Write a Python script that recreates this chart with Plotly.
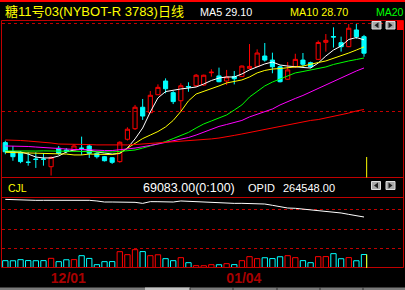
import plotly.graph_objects as go

W, H = 405, 290

# ---------------- data ----------------
title_text = "糖11号03(NYBOT-R 3783)日线"
opens  = [23.26, 22.74, 22.71, 22.15, 22.33, 22.33, 21.89, 22.94, 22.84, 22.84,
          22.95, 23.07, 22.65, 22.46, 22.40, 22.18, 23.45, 24.05, 25.27, 24.96,
          25.98, 26.76, 26.10, 25.64, 26.45, 26.49, 26.53, 27.23, 27.05, 26.76,
          27.01, 27.01, 27.48, 27.59, 28.18, 27.95, 27.57, 26.86, 27.57, 27.95,
          27.80, 27.99, 28.96, 29.29, 28.94, 28.71, 29.66, 29.28]
highs  = [23.37, 23.07, 22.78, 22.71, 22.71, 22.65, 22.48, 23.07, 22.95, 23.18,
          23.60, 23.18, 22.70, 22.50, 22.44, 23.33, 24.13, 25.40, 25.74, 26.19,
          26.57, 26.91, 26.19, 26.63, 26.69, 27.16, 27.12, 27.43, 27.52, 27.39,
          27.33, 27.64, 28.86, 28.56, 28.92, 28.37, 27.64, 27.84, 28.31, 28.35,
          27.86, 29.06, 29.43, 29.81, 29.28, 30.00, 30.00, 29.38]
lows   = [22.60, 22.23, 22.09, 21.95, 21.82, 21.95, 21.39, 22.56, 22.67, 22.78,
          22.56, 22.39, 22.36, 22.19, 22.05, 22.12, 23.38, 23.98, 24.55, 24.94,
          25.97, 26.06, 25.45, 25.02, 26.15, 26.42, 26.48, 27.01, 26.69, 26.53,
          26.57, 26.99, 27.47, 27.56, 27.86, 27.20, 26.68, 26.82, 27.50, 27.50,
          27.50, 27.95, 28.43, 28.66, 28.43, 28.69, 29.16, 28.14]
closes = [22.74, 22.46, 22.18, 22.14, 22.30, 22.31, 22.42, 22.64, 22.76, 23.07,
          22.93, 22.65, 22.46, 22.23, 22.14, 23.28, 24.02, 25.27, 24.77, 25.95,
          26.40, 26.32, 25.59, 26.49, 26.42, 27.09, 27.09, 27.26, 26.72, 26.99,
          26.89, 27.61, 27.59, 28.35, 27.95, 27.57, 26.72, 27.39, 27.99, 27.71,
          27.57, 28.95, 29.07, 29.26, 28.71, 29.76, 29.28, 28.34]

ma5  = [22.76, 22.73, 22.73, 22.61, 22.44, 22.39, 22.39, 22.50, 22.73, 22.84,
        22.87, 22.84, 22.73, 22.67, 22.61, 22.64, 22.95, 23.47, 24.09, 25.00,
        25.80, 26.16, 26.25, 26.31, 26.36, 26.42, 26.59, 26.79, 26.93, 26.99,
        26.99, 27.16, 27.39, 27.56, 27.73, 27.84, 27.67, 27.61, 27.59, 27.53,
        27.50, 27.78, 28.18, 28.52, 28.75, 29.12, 29.23, 29.10]
ma10 = [22.71, 22.70, 22.70, 22.67, 22.67, 22.64, 22.64, 22.64, 22.61, 22.56,
        22.56, 22.61, 22.61, 22.61, 22.58, 22.67, 22.93, 23.21, 23.49, 23.69,
        23.89, 24.15, 24.52, 25.03, 25.63, 26.02, 26.16, 26.31, 26.48, 26.65,
        26.73, 26.82, 26.99, 27.22, 27.36, 27.44, 27.47, 27.50, 27.56, 27.61,
        27.73, 27.81, 27.90, 28.04, 28.18, 28.35, 28.52, 28.70]
ma20 = [22.79, 22.78, 22.78, 22.77, 22.78, 22.79, 22.78, 22.78, 22.77, 22.76,
        22.76, 22.76, 22.73, 22.73, 22.73, 22.76, 22.78, 22.84, 22.95, 23.07,
        23.21, 23.32, 23.49, 23.67, 23.84, 24.09, 24.32, 24.49, 24.66, 24.83,
        25.11, 25.40, 25.85, 26.19, 26.48, 26.70, 26.88, 27.05, 27.22, 27.30,
        27.39, 27.44, 27.56, 27.70, 27.81, 27.90, 27.98, 28.07]
ma40 = [23.07, 23.07, 23.07, 23.04, 23.01, 22.98, 22.93, 22.90, 22.87, 22.87,
        22.87, 22.84, 22.84, 22.81, 22.81, 22.84, 22.90, 22.95, 23.01, 23.10,
        23.18, 23.27, 23.35, 23.44, 23.55, 23.69, 23.86, 24.03, 24.18, 24.29,
        24.40, 24.52, 24.72, 24.86, 25.00, 25.17, 25.40, 25.60, 25.77, 25.94,
        26.14, 26.36, 26.53, 26.73, 26.93, 27.13, 27.33, 27.50]
ma60 = [23.41, 23.41, 23.38, 23.35, 23.32, 23.30, 23.24, 23.18, 23.18, 23.18,
        23.18, 23.15, 23.13, 23.13, 23.13, 23.10, 23.13, 23.15, 23.18, 23.21,
        23.24, 23.27, 23.30, 23.32, 23.35, 23.38, 23.41, 23.47, 23.52, 23.58,
        23.67, 23.75, 23.84, 23.92, 24.01, 24.09, 24.18, 24.29, 24.35, 24.43,
        24.52, 24.57, 24.66, 24.74, 24.83, 24.94, 25.06, 25.14]

volume = [37600, 37200, 42700, 38100, 37400, 37900, 49600, 32500, 42200, 43100,
          63200, 49100, 17100, 32500, 32900, 83700, 68400, 94000, 84200, 63200,
          67800, 47900, 37600, 53000, 27300, 12000, 11600, 17100, 16800, 22200,
          17400, 37600, 58100, 47900, 52600, 48300, 57700, 63200, 53000, 37900,
          27300, 58100, 58500, 73500, 47500, 53400, 37200, 69083]
open_interest = [317420, 316350, 314630, 314480, 314550, 314610, 314390, 314520, 314470, 314580,
                 315410, 314560, 312620, 309480, 309550, 309610, 309430, 308520, 305470, 310610,
                 310480, 309560, 309470, 312630, 311540, 309490, 309580, 309460, 306510, 305620,
                 305480, 305550, 305430, 304570, 303490, 299610, 295520, 291480, 290630, 288470,
                 285560, 282490, 281620, 279510, 276580, 272470, 267520, 264548]

tick_idx = [8, 31]
tick_labels = ["12/01", "01/04"]

ma_names = ["MA5", "MA10", "MA20", "MA40", "MA60"]
ma_series = [ma5, ma10, ma20, ma40, ma60]
ma_colors = ["#ffffff", "#ffff00", "#00ff00", "#ff00ff", "#ff0000"]
cjl_label = "CJL"
cjl_text = "69083.00(0:100)"
opid_label = "OPID"
opid_text = "264548.00"

# ---------------- styling helpers ----------------
FRAME = "#c00000"
SANS = "Liberation Sans, Arial, sans-serif"


def px(x):
    return x / W


def py(y):
    return 1 - y / H


x = list(range(len(closes)))
up = [c >= o for o, c in zip(opens, closes)]
vol_colors = ["#ff0000" if u else "#00ffff" for u in up]

fig = go.Figure()

fig.add_trace(go.Candlestick(
    x=x, open=opens, high=highs, low=lows, close=closes,
    increasing=dict(line=dict(color="#ff0000", width=1), fillcolor="rgba(0,0,0,0)"),
    decreasing=dict(line=dict(color="#00ffff", width=1), fillcolor="#00ffff"),
    whiskerwidth=0, xaxis="x", yaxis="y", hoverinfo="skip"))

for name, s, c in zip(ma_names, ma_series, ma_colors):
    fig.add_trace(go.Scatter(x=x, y=s, mode="lines", name=name,
                             line=dict(color=c, width=1), xaxis="x", yaxis="y",
                             hoverinfo="skip"))

BAR_W = 0.70
fig.add_trace(go.Bar(x=x, y=volume, width=BAR_W,
                     marker=dict(color="rgba(0,0,0,0)", line=dict(color=vol_colors, width=1)),
                     xaxis="x2", yaxis="y2", hoverinfo="skip"))
fig.add_trace(go.Scatter(x=x, y=open_interest, mode="lines",
                         line=dict(color="#ffffff", width=1),
                         xaxis="x2", yaxis="y3", hoverinfo="skip"))

XR = [-0.432, 52.11]
XD = [px(2), px(403)]
fig.update_layout(
    width=W, height=H, margin=dict(l=0, r=0, t=0, b=0),
    paper_bgcolor="#000000", plot_bgcolor="#000000", showlegend=False,
    boxgap=0.22,
    xaxis=dict(domain=XD, range=XR, showticklabels=False, showgrid=False,
               zeroline=False, showline=False, rangeslider=dict(visible=False),
               anchor="y"),
    yaxis=dict(domain=[py(177.5), py(21)], range=[21.278, 30.170],
               tickvals=[25, 30], showticklabels=False, ticks="",
               showgrid=True, gridcolor=FRAME, gridwidth=1, griddash="3px,3px",
               zeroline=False, showline=False, anchor="x"),
    xaxis2=dict(domain=XD, range=XR, tickvals=tick_idx, ticktext=tick_labels,
                ticks="", showgrid=False, zeroline=False, showline=False,
                tickfont=dict(family=SANS, size=14, color="#a80000", weight="bold"),
                ticklabelshift=2, anchor="y2"),
    yaxis2=dict(domain=[py(268), py(197)], range=[0, 364100],
                tickvals=[100000, 200000, 300000], showticklabels=False, ticks="",
                showgrid=True, gridcolor=FRAME, gridwidth=1, griddash="3px,3px",
                zeroline=False, showline=False, anchor="x2"),
    yaxis3=dict(overlaying="y2", range=[111548, 324548], showticklabels=False,
                showgrid=False, zeroline=False, showline=False, anchor="x2",
                domain=[py(268), py(197)]),
)

shapes = []


def line(x0, y0, x1, y1, color=FRAME, width=1):
    shapes.append(dict(type="line", xref="paper", yref="paper",
                       x0=px(x0), y0=py(y0), x1=px(x1), y1=py(y1),
                       line=dict(color=color, width=width)))


def rect(x0, y0, x1, y1, fill, lc=None, lw=0):
    shapes.append(dict(type="rect", xref="paper", yref="paper",
                       x0=px(x0), y0=py(y0), x1=px(x1), y1=py(y1),
                       fillcolor=fill, line=dict(color=lc or fill, width=lw)))


def tri(points, fill):
    d = "M " + " L ".join(f"{px(a):.5f},{py(b):.5f}" for a, b in points) + " Z"
    shapes.append(dict(type="path", xref="paper", yref="paper", path=d,
                       fillcolor=fill, line=dict(color=fill, width=0)))


# top bright band
rect(0, 0, 405, 2, "#ff0000")
# frames
line(1.5, 20.5, 403.5, 20.5)
line(1.5, 177.5, 403.5, 177.5)
line(1.5, 197.5, 403.5, 197.5)
line(1.5, 267.5, 403.5, 267.5)
line(1.5, 20.5, 1.5, 267.5)
line(403.5, 20.5, 403.5, 267.5)


def icons(y0, y1, xa, xb):
    for i, x0 in enumerate((xa, xb)):
        rect(x0, y0, x0 + 9, y1, "#a8a8a8", "#e0e0e0", 1)
        cy = (y0 + y1) / 2
        if i == 0:
            tri([(x0 + 2.5, cy), (x0 + 6.5, cy - 3), (x0 + 6.5, cy + 3)], "#202020")
        else:
            tri([(x0 + 6.5, cy), (x0 + 2.5, cy - 3), (x0 + 2.5, cy + 3)], "#202020")


icons(21.5, 29, 372, 386)
rect(397, 20.5, 403.5, 30, "#ff0000")
icons(181.5, 189.5, 371.5, 386)

# cursor marks at last bar
shapes.append(dict(type="line", xref="x", yref="y domain",
                   x0=x[-1] + BAR_W / 2, x1=x[-1] + BAR_W / 2, y0=0, y1=0.131,
                   line=dict(color="#ffff00", width=1)))
shapes.append(dict(type="line", xref="x2", yref="y2",
                   x0=x[-1] + BAR_W / 2, x1=x[-1] + BAR_W / 2, y0=0, y1=volume[-1],
                   line=dict(color="#ffff00", width=1)))

# bottom tab strip
rect(0, 287.5, 405, 290, "#7a7a7a")
rect(145, 287.5, 190, 290, "#c4c4c4")
for xx in (190, 233, 277, 320, 363):
    line(xx, 287.5, xx, 290, "#303030")

fig.update_layout(shapes=shapes)

ann = []


def text(t, x0, y0, color, size=11, family=SANS):
    ann.append(dict(text=t, xref="paper", yref="paper", x=px(x0), y=py(y0),
                    xanchor="left", yanchor="middle", showarrow=False,
                    font=dict(family=family, size=size, color=color), borderpad=0))


text(title_text, 4, 11.5, "#ffff00", 13, "Liberation Sans, Noto Sans CJK SC, sans-serif")
text(f"{ma_names[0]} {ma5[-1]:.2f}", 198.5, 11.5, "#ffffff", 10.8)
text(f"{ma_names[1]} {ma10[-1]:.2f}", 288.5, 11.5, "#ffff00", 10.8)
text(ma_names[2], 374.5, 11.5, "#00ff00", 10.5)
text(cjl_label, 6.5, 188, "#ffff00", 10.5)
text(cjl_text, 142, 188, "#ffffff", 12.5)
text(opid_label, 247, 188, "#ffffff", 11)
text(opid_text, 282, 188, "#ffffff", 11)
fig.update_layout(annotations=ann)

fig.write_html("out.html")
